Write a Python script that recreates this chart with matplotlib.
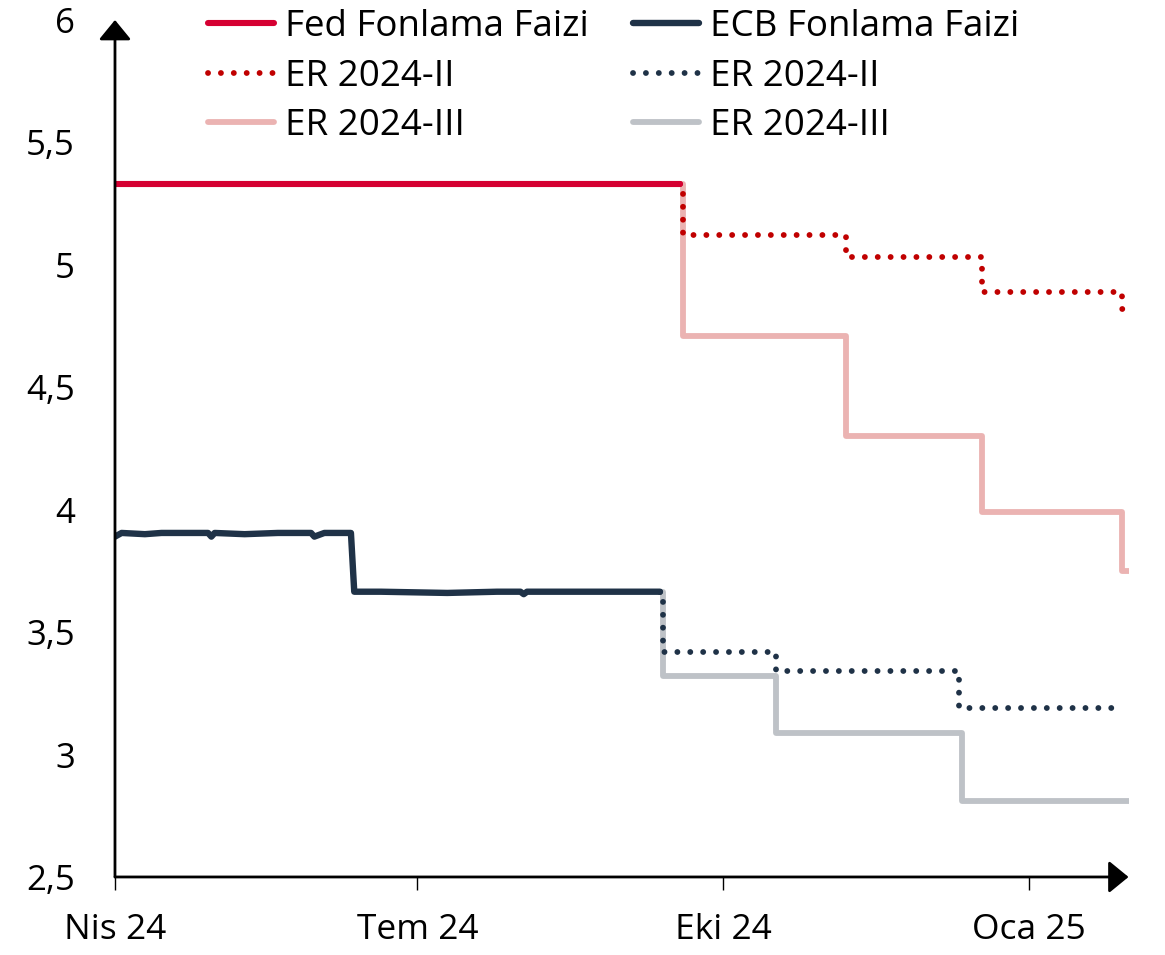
import pandas as pd
import numpy as np
import matplotlib.pyplot as plt

plt.rcParams['font.family'] = ['Open Sans', 'DejaVu Sans']

# Fed funding rate (realised)
fed_dates = ["2024-04-01", "2024-09-18"]
fed_vals = [5.33, 5.33]

# Fed expectations (steps)
fed_er2_dates = ["2024-09-18", "2024-09-19", "2024-11-07", "2024-12-18", "2025-01-29", "2025-01-31"]
fed_er2_vals = [5.33, 5.12, 5.03, 4.89, 4.82, 4.82]
fed_er3_dates = ["2024-09-18", "2024-09-19", "2024-11-07", "2024-12-18", "2025-01-29", "2025-01-31"]
fed_er3_vals = [5.33, 4.71, 4.30, 3.99, 3.75, 3.75]

# ECB funding rate (realised, daily-ish readings)
ecb_dates = ["2024-04-01", "2024-04-03", "2024-04-10", "2024-04-15", "2024-04-25", "2024-04-29", "2024-04-30",
             "2024-05-01", "2024-05-10", "2024-05-20", "2024-05-30", "2024-05-31", "2024-06-03",
             "2024-06-11", "2024-06-12", "2024-06-20", "2024-07-10", "2024-07-25", "2024-08-01",
             "2024-08-02", "2024-08-03", "2024-08-20", "2024-09-12"]
ecb_vals = [3.89, 3.905, 3.90, 3.905, 3.905, 3.905, 3.89,
            3.905, 3.90, 3.905, 3.905, 3.89, 3.905,
            3.905, 3.665, 3.665, 3.66, 3.665, 3.665,
            3.655, 3.665, 3.665, 3.665]

# ECB expectations (steps)
ecb_er2_dates = ["2024-09-12", "2024-09-13", "2024-10-17", "2024-12-11", "2025-01-28"]
ecb_er2_vals = [3.665, 3.42, 3.34, 3.19, 3.19]
ecb_er3_dates = ["2024-09-12", "2024-09-13", "2024-10-17", "2024-12-12", "2025-01-31"]
ecb_er3_vals = [3.665, 3.32, 3.09, 2.81, 2.81]

yticks = [2.5, 3, 3.5, 4, 4.5, 5, 5.5, 6]
xtick_dates = ["2024-04-01", "2024-07-01", "2024-10-01", "2025-01-01"]
xtick_labels = ["Nis 24", "Tem 24", "Eki 24", "Oca 25"]

red = "#D50032"
red_dot = "#C00000"
pink = "#EBB3B2"
navy = "#1F3247"
gray = "#BEC2C7"
dots = (0, (0.01, 2.2))

fig = plt.figure(figsize=(11.65, 9.55), dpi=100)
ax = fig.add_axes([0.0987, 0.0817, 0.870, 0.8974])

d = pd.to_datetime
ax.plot(d(fed_er3_dates), fed_er3_vals, color=pink, lw=4.2, drawstyle="steps-post",
        solid_capstyle="round", label="ER 2024-III")
ax.plot(d(fed_er2_dates), fed_er2_vals, color=red_dot, lw=4.2, ls=dots, dash_capstyle="round",
        drawstyle="steps-post", label="ER 2024-II")
ax.plot(d(fed_dates), fed_vals, color=red, lw=4.4, solid_capstyle="round", label="Fed Fonlama Faizi")

ax.plot(d(ecb_er3_dates), ecb_er3_vals, color=gray, lw=4.2, drawstyle="steps-post",
        solid_capstyle="round", label="ER 2024-III")
ax.plot(d(ecb_er2_dates), ecb_er2_vals, color=navy, lw=4.2, ls=dots, dash_capstyle="round",
        drawstyle="steps-post", label="ER 2024-II")
ax.plot(d(ecb_dates), ecb_vals, color=navy, lw=4.6, solid_capstyle="round", label="ECB Fonlama Faizi")

ax.set_xlim(d("2024-04-01"), d("2025-01-31"))
ax.set_ylim(2.5, 6)
ax.set_yticks(yticks)
ax.set_yticklabels([f"{v:g}".replace(".", ",") for v in yticks])
ax.set_xticks(d(xtick_dates))
ax.set_xticklabels(xtick_labels)
ax.tick_params(axis="y", length=0, pad=29, labelsize=25)
ax.tick_params(axis="x", length=9, width=1.0, pad=17, labelsize=25.5, direction="out")

for s in ["top", "right", "left", "bottom"]:
    ax.spines[s].set_visible(False)
arrow = dict(arrowstyle="-|>,head_length=0.55,head_width=0.45", color="black", lw=2.0,
             mutation_scale=22, shrinkA=0, shrinkB=0)
ax.annotate("", xy=(0, 1), xytext=(0, 0), xycoords="axes fraction", arrowprops=arrow,
            annotation_clip=False)
ax.annotate("", xy=(1, 0), xytext=(0, 0), xycoords="axes fraction", arrowprops=arrow,
            annotation_clip=False)

h, l = ax.get_legend_handles_labels()
order = [2, 1, 0, 5, 4, 3]
ax.legend([h[i] for i in order], [l[i] for i in order], ncol=2, loc="upper left",
          bbox_to_anchor=(0.077, 1.03), frameon=False, fontsize=26.5, handlelength=1.8,
          handletextpad=0.3, columnspacing=1.2, labelspacing=0.37, borderaxespad=0)

fig.savefig("out.png", dpi=100)
